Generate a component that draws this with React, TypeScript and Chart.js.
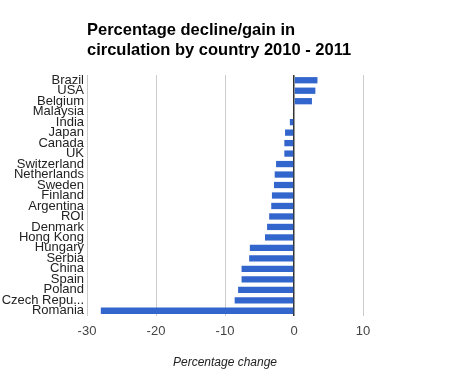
import React, { useEffect, useRef } from "react";
import { Chart, registerables } from "chart.js";

Chart.register(...registerables);

const countries = [
  "Brazil", "USA", "Belgium", "Malaysia", "India", "Japan", "Canada", "UK",
  "Switzerland", "Netherlands", "Sweden", "Finland", "Argentina", "ROI",
  "Denmark", "Hong Kong", "Hungary", "Serbia", "China", "Spain", "Poland",
  "Czech Repu...", "Romania",
];
const changes = [
  3.4, 3.1, 2.6, 0, -0.6, -1.3, -1.4, -1.4, -2.6, -2.8, -2.9, -3.2, -3.3,
  -3.6, -3.9, -4.2, -6.4, -6.5, -7.6, -7.6, -8.1, -8.6, -28,
];
const titleLines = ["Percentage decline/gain in", "circulation by country 2010 - 2011"];
const xAxisTitle = "Percentage change";
const xMin = -30;
const xMax = 10;
const xStep = 10;

const FONT = "'Liberation Sans', Arial, sans-serif";

export default function App() {
  const ref = useRef<HTMLCanvasElement | null>(null);

  useEffect(() => {
    document.body.style.margin = "0";
    const canvas = ref.current;
    if (!canvas) return;
    const chart = new Chart(canvas, {
      type: "bar",
      data: {
        labels: countries,
        datasets: [
          {
            data: changes,
            backgroundColor: "#3366cc",
            borderWidth: 0,
            barPercentage: 0.6,
            categoryPercentage: 1,
          },
        ],
      },
      options: {
        indexAxis: "y",
        responsive: false,
        animation: false,
        layout: { padding: { left: 0, right: 87, top: 0, bottom: 0 } },
        plugins: {
          legend: { display: false },
          tooltip: { enabled: false },
          title: {
            display: true,
            text: titleLines,
            align: "start",
            fullSize: false,
            color: "#000",
            font: { family: FONT, size: 16.5, weight: "bold", lineHeight: 20 / 16.5 },
            padding: { top: 20, bottom: 15 },
          },
        },
        scales: {
          x: {
            min: xMin,
            max: xMax,
            ticks: {
              stepSize: xStep,
              color: "#444",
              font: { family: FONT, size: 13 },
              padding: 8,
            },
            grid: {
              drawTicks: false,
              color: (ctx: any) => (ctx.tick && ctx.tick.value === 0 ? "#333" : "#cccccc"),
              lineWidth: (ctx: any) => (ctx.tick && ctx.tick.value === 0 ? 1.5 : 1),
            },
            border: { display: false },
            title: {
              display: true,
              text: xAxisTitle,
              color: "#222",
              font: { family: FONT, size: 12, style: "italic" },
              padding: { top: 0, bottom: 22 },
            },
            afterFit: (scale: any) => {
              scale.height = 76;
            },
          },
          y: {
            grid: { display: false, drawTicks: false },
            border: { display: false },
            ticks: {
              color: "#222",
              font: { family: FONT, size: 13 },
              padding: 3,
              autoSkip: false,
            },
            afterFit: (scale: any) => {
              scale.width = 87;
            },
          },
        },
      },
    });
    return () => chart.destroy();
  }, []);

  return <canvas ref={ref} width={450} height={392} style={{ display: "block" }} />;
}
